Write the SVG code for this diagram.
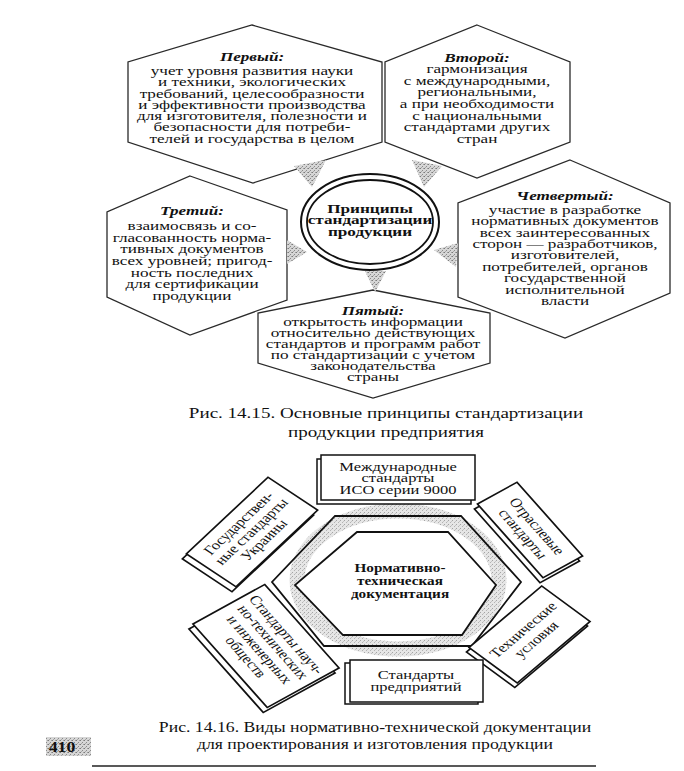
<svg xmlns="http://www.w3.org/2000/svg" width="684" height="771" viewBox="0 0 684 771">
<defs>
<pattern id="st" width="4" height="4" patternUnits="userSpaceOnUse">
<rect width="4" height="4" fill="#d6d6d6"/>
<rect width="1" height="1" fill="#7a7a7a"/>
<rect x="2" y="2" width="1" height="1" fill="#8a8a8a"/>
<rect x="3" y="0" width="1" height="1" fill="#a0a0a0"/>
<rect x="1" y="3" width="1" height="1" fill="#a8a8a8"/>
</pattern>
<pattern id="st2" width="4" height="4" patternUnits="userSpaceOnUse">
<rect width="4" height="4" fill="#e6e6e6"/>
<rect width="1" height="1" fill="#a4a4a4"/>
<rect x="2" y="2" width="1" height="1" fill="#b4b4b4"/>
<rect x="3" y="1" width="1" height="1" fill="#c4c4c4"/>
</pattern>
<style>
.t{font-family:"Liberation Serif","Times New Roman",serif;font-size:12.5px;fill:#111;text-anchor:middle}
.s{font-family:"Liberation Serif","Times New Roman",serif;font-size:13px;fill:#111;text-anchor:middle}
.hi{font-weight:bold;font-style:italic}
.b{font-weight:bold}
.hex{fill:#fff;stroke:#2a2a2a;stroke-width:1.3;stroke-linejoin:miter}
.hx2{stroke:#111;stroke-width:1.8;stroke-linejoin:miter}
.card{fill:#fff;stroke:#111;stroke-width:1.5}
.cap{font-family:"Liberation Serif","Times New Roman",serif;font-size:15px;fill:#111;text-anchor:middle}
.wedge{fill:url(#st);stroke:none}
</style>
</defs>
<rect width="684" height="771" fill="#fff"/>

<!-- Figure 14.15 -->
<g id="hex1">
<polygon class="hex" points="252,25 382,62 382,142 253,183 128,142 128,62"/>
<g transform="translate(252,0) scale(1.37,1)">
<text class="t hi" y="61">Первый:</text>
<text class="t" y="75">учет уровня развития науки</text>
<text class="t" y="86.3">и техники, экологических</text>
<text class="t" y="97.6">требований, целесообразности</text>
<text class="t" y="108.9">и эффективности производства</text>
<text class="t" y="120.2">для изготовителя, полезности и</text>
<text class="t" y="131.5">безопасности для потреби-</text>
<text class="t" y="142.8">телей и государства в целом</text>
</g>
</g>

<g id="hex2">
<polygon class="hex" points="477,25 570,62 570,142 477,178 385,142 385,62"/>
<g transform="translate(477,0) scale(1.37,1)">
<text class="t hi" y="62">Второй:</text>
<text class="t" y="73.5">гармонизация</text>
<text class="t" y="85">с международными,</text>
<text class="t" y="96.5">региональными,</text>
<text class="t" y="108">а при необходимости</text>
<text class="t" y="119.7">с национальными</text>
<text class="t" y="131.3">стандартами других</text>
<text class="t" y="143">стран</text>
</g>
</g>

<g id="hex3">
<polygon class="hex" points="190,176 287,210 287,300 190,335 107,297 107,212"/>
<g transform="translate(192,0) scale(1.37,1)">
<text class="t hi" y="215">Третий:</text>
<text class="t" y="230">взаимосвязь и со-</text>
<text class="t" y="241.7">гласованность норма-</text>
<text class="t" y="253.3">тивных документов</text>
<text class="t" y="265">всех уровней; пригод-</text>
<text class="t" y="276.7">ность последних</text>
<text class="t" y="288.3">для сертификации</text>
<text class="t" y="300">продукции</text>
</g>
</g>

<g id="hex4">
<polygon class="hex" points="570,160 670,203 670,293 565,338 458,297 458,203"/>
<g transform="translate(565,0) scale(1.37,1)">
<text class="t hi" y="200">Четвертый:</text>
<text class="t" y="214">участие в разработке</text>
<text class="t" y="225.4">нормативных документов</text>
<text class="t" y="236.8">всех заинтересованных</text>
<text class="t" y="248.1">сторон — разработчиков,</text>
<text class="t" y="259.5">изготовителей,</text>
<text class="t" y="270.9">потребителей, органов</text>
<text class="t" y="282.3">государственной</text>
<text class="t" y="293.6">исполнительной</text>
<text class="t" y="305">власти</text>
</g>
</g>

<g id="hex5">
<polygon class="hex" points="373,290 490,313 490,363 373,398 258,363 258,313"/>
<g transform="translate(373,0) scale(1.37,1)">
<text class="t hi" y="315">Пятый:</text>
<text class="t" y="326">открытость информации</text>
<text class="t" y="337">относительно  действующих</text>
<text class="t" y="347.8">стандартов и программ работ</text>
<text class="t" y="358.6">по стандартизации с учетом</text>
<text class="t" y="369.6">законодательства</text>
<text class="t" y="381">страны</text>
</g>
</g>

<g id="connectors">
<polygon class="wedge" points="294,166 326,160 312,187"/>
<polygon class="wedge" points="412,160 442,166 424,187"/>
<polygon class="wedge" points="287,240 307,252 287,264"/>
<polygon class="wedge" points="434,250 458,243 456,267"/>
<polygon class="wedge" points="365,271 386,271 375,292"/>
</g>

<g id="center">
<ellipse cx="370" cy="222" rx="69" ry="48" fill="#fff" stroke="#111" stroke-width="2"/>
<ellipse cx="370" cy="222" rx="63" ry="42" fill="none" stroke="#111" stroke-width="1.8"/>
<g transform="translate(370,0) scale(1.27,1)">
<text class="t b" y="213" style="font-size:13.5px">Принципы</text>
<text class="t b" y="224.5" style="font-size:13.5px">стандартизации</text>
<text class="t b" y="236" style="font-size:13.5px">продукции</text>
</g>
</g>

<g id="caption1" transform="translate(386,0) scale(1.27,1)">
<text class="cap" y="418">Рис. 14.15. Основные принципы стандартизации</text>
<text class="cap" y="437">продукции предприятия</text>
</g>

<!-- Figure 14.16 -->
<g id="ring">
<ellipse cx="398" cy="580" rx="101" ry="69" fill="none" stroke="url(#st2)" stroke-width="15"/>
</g>

<g id="ntd">
<polygon class="hx2" fill="none" points="335,516 461,516 521,582 472,646 324,646 272,582"/>
<polygon class="hx2" fill="#fff" points="357,532 448,532 496,585 462,635 343,635 295,585"/>
<g transform="translate(400,0) scale(1.27,1)">
<text class="s b" y="572" style="font-size:12px">Нормативно-</text>
<text class="s b" y="585.5" style="font-size:12px">техническая</text>
<text class="s b" y="598.5" style="font-size:12px">документация</text>
</g>
</g>

<g id="iso">
<rect class="card" x="317" y="459" width="154" height="45"/>
<rect class="card" x="321" y="455" width="154" height="45"/>
<g transform="translate(398,0) scale(1.27,1)">
<text class="s" y="471">Международные</text>
<text class="s" y="482.5">стандарты</text>
<text class="s" y="494">ИСО серии 9000</text>
</g>
</g>

<g id="gos">
<g transform="translate(248,537) scale(1.27,1) rotate(-50)"><rect class="card" x="-50" y="-25.5" width="100" height="51"/></g>
<g transform="translate(252,532) scale(1.27,1) rotate(-50)">
<rect class="card" x="-50" y="-25.5" width="100" height="51"/>
<text class="s" y="-9.5">Государствен-</text>
<text class="s" y="3.5">ные стандарты</text>
<text class="s" y="16.5">Украины</text>
</g>
</g>

<g id="otr">
<g transform="translate(527,535) scale(1.27,1) rotate(55)"><rect class="card" x="-45" y="-19" width="90" height="38"/></g>
<g transform="translate(530,530) scale(1.27,1) rotate(55)">
<rect class="card" x="-45" y="-19" width="90" height="38"/>
<text class="s" y="-2.5">Отраслевые</text>
<text class="s" y="11">стандарты</text>
</g>
</g>

<g id="tu">
<g transform="translate(527,639) scale(1.27,1) rotate(-47)"><rect class="card" x="-42" y="-26" width="84" height="52"/></g>
<g transform="translate(529.5,634.5) scale(1.27,1) rotate(-47)">
<rect class="card" x="-42" y="-26" width="84" height="52"/>
<text class="s" y="-2.5">Технические</text>
<text class="s" y="11.5">условия</text>
</g>
</g>

<g id="nto">
<g transform="translate(262,651) scale(1.27,1) rotate(55)"><rect class="card" x="-51" y="-34.5" width="102" height="69"/></g>
<g transform="translate(266,646) scale(1.27,1) rotate(55)">
<rect class="card" x="-51" y="-34.5" width="102" height="69"/>
<text class="s" y="-15.5">Стандарты науч-</text>
<text class="s" y="-2.5">но-технических</text>
<text class="s" y="10.5">и инженерных</text>
<text class="s" y="23.5">обществ</text>
</g>
</g>

<g id="stp">
<rect class="card" x="345" y="663" width="133" height="41"/>
<rect class="card" x="350" y="660" width="133" height="42"/>
<g transform="translate(416,0) scale(1.27,1)">
<text class="s" y="679">Стандарты</text>
<text class="s" y="691.5">предприятий</text>
</g>
</g>

<g id="caption2" transform="translate(375,0) scale(1.18,1)">
<text class="cap" y="732">Рис. 14.16. Виды нормативно-технической документации</text>
<text class="cap" y="749">для проектирования и изготовления продукции</text>
</g>

<g id="pagenum">
<rect x="46" y="737" width="45" height="19" fill="url(#st)"/>
<g transform="translate(62,0) scale(1.27,1)">
<text class="cap b" y="752" style="font-size:14px">410</text>
</g>
</g>
<line x1="92" y1="766" x2="596" y2="766" stroke="#222" stroke-width="1.5"/>
</svg>
